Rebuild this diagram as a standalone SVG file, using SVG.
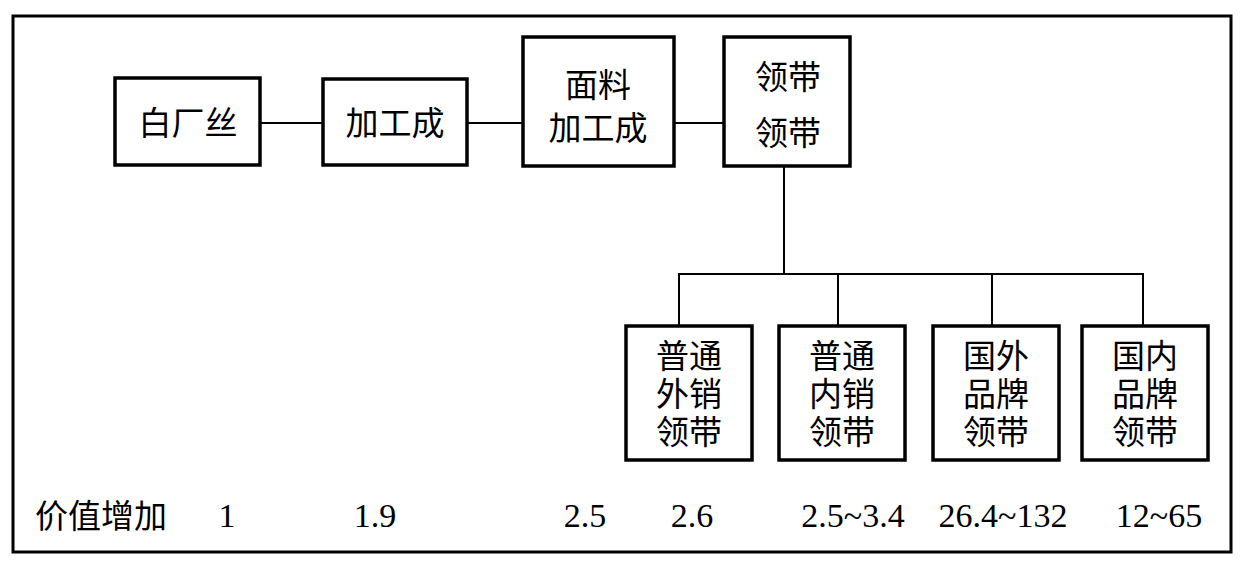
<svg xmlns="http://www.w3.org/2000/svg" width="1250" height="578" viewBox="0 0 1250 578">
<style>
.box{fill:#fff;stroke:#000;stroke-width:3.5}
.frame{fill:none;stroke:#000;stroke-width:3}
.conn{fill:none;stroke:#000;stroke-width:2}
.cjk{font-family:"Liberation Serif","Noto Sans CJK SC",serif;font-size:33px;fill:#000;text-anchor:middle}
.num{font-family:"Liberation Serif",serif;font-size:34px;fill:#000;text-anchor:middle}
</style>
<rect width="1250" height="578" fill="#fff"/>
<rect class="frame" x="13" y="16" width="1218" height="536"/>
<g id="connectors">
<line class="conn" x1="260" y1="123" x2="323" y2="123"/>
<line class="conn" x1="467" y1="123" x2="523" y2="123"/>
<line class="conn" x1="674" y1="123" x2="724" y2="123"/>
<line class="conn" x1="784" y1="166" x2="784" y2="274"/>
<polyline class="conn" points="679,325 679,274 1143,274 1143,325"/>
<line class="conn" x1="838" y1="274" x2="838" y2="325"/>
<line class="conn" x1="992" y1="274" x2="992" y2="325"/>
</g>
<g id="n1"><rect class="box" x="115" y="78" width="145" height="87"/><text class="cjk" x="188" y="135" font-size="34">白厂丝</text></g>
<g id="n2"><rect class="box" x="323" y="79" width="144" height="86"/><text class="cjk" x="395" y="135" font-size="34">加工成</text></g>
<g id="n3"><rect class="box" x="523" y="37" width="151" height="129"/><text class="cjk" x="598" y="97" font-size="34">面料</text><text class="cjk" x="598" y="140" font-size="34">加工成</text></g>
<g id="n4"><rect class="box" x="724" y="37" width="126" height="129"/><text class="cjk" x="788" y="89" font-size="34">领带</text><text class="cjk" x="788" y="145" font-size="34">领带</text></g>
<g id="n5"><rect class="box" x="626" y="326" width="126" height="134"/><text class="cjk" x="689" y="368">普通</text><text class="cjk" x="689" y="406">外销</text><text class="cjk" x="689" y="444">领带</text></g>
<g id="n6"><rect class="box" x="779" y="326" width="126" height="134"/><text class="cjk" x="842" y="368">普通</text><text class="cjk" x="842" y="406">内销</text><text class="cjk" x="842" y="444">领带</text></g>
<g id="n7"><rect class="box" x="933" y="326" width="126" height="134"/><text class="cjk" x="996" y="368">国外</text><text class="cjk" x="996" y="406">品牌</text><text class="cjk" x="996" y="444">领带</text></g>
<g id="n8"><rect class="box" x="1082" y="326" width="126" height="134"/><text class="cjk" x="1145" y="368">国内</text><text class="cjk" x="1145" y="406">品牌</text><text class="cjk" x="1145" y="444">领带</text></g>
<g id="values">
<text class="cjk" x="101" y="528" font-size="34">价值增加</text>
<text class="num" x="227" y="527">1</text>
<text class="num" x="375" y="527">1.9</text>
<text class="num" x="585" y="527">2.5</text>
<text class="num" x="692" y="527">2.6</text>
<text class="num" x="853" y="527">2.5~3.4</text>
<text class="num" x="1003" y="527">26.4~132</text>
<text class="num" x="1159" y="527">12~65</text>
</g>
</svg>
